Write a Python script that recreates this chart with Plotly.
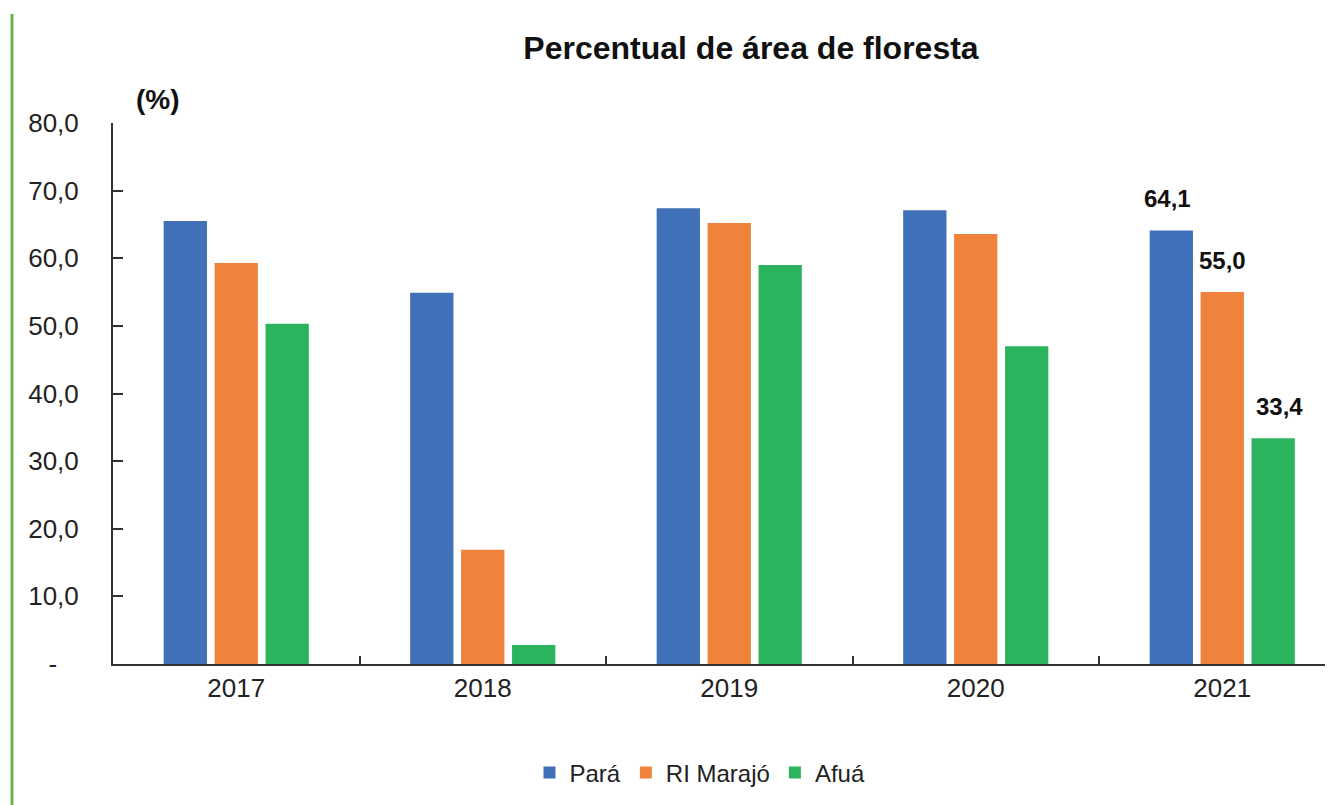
import plotly.graph_objects as go

years = ["2017", "2018", "2019", "2020", "2021"]
para = [65.5, 54.9, 67.4, 67.1, 64.1]
marajo = [59.3, 16.9, 65.2, 63.6, 55.0]
afua = [50.3, 2.8, 59.0, 47.0, 33.4]
series = [("Pará", para, "#3F70B8"), ("RI Marajó", marajo, "#F0833C"), ("Afuá", afua, "#2BB35E")]
ytick_vals = [0, 10, 20, 30, 40, 50, 60, 70, 80]
ytick_text = ["-\u00a0\u00a0\u00a0", "10,0", "20,0", "30,0", "40,0", "50,0", "60,0", "70,0", "80,0"]

FONT = "Liberation Sans, Arial, sans-serif"

# page offset (body margin 8px) compensation
OFF = 8
L, T, PW, PH = 113 - OFF, 123 - OFF, 1220, 541
B = 805 - (T + PH)
R = 1333 - L - PW

fig = go.Figure()
for name, vals, col in series:
    fig.add_trace(go.Bar(x=years, y=vals, name=name, marker=dict(color=col, line=dict(width=0))))

# data labels for last year
offsets = [-55, 0, 57]
last = len(years) - 1
for (name, vals, col), dx in zip(series, offsets):
    fig.add_annotation(x=last, y=vals[last], xref="x", yref="y",
                       text="<b>" + f"{vals[last]:.1f}".replace(".", ",") + "</b>", showarrow=False,
                       xshift=dx, yshift=32, font=dict(family=FONT, size=24, color="#111111"))

fig.add_annotation(x=(158 - 113) / PW, y=(664 - 100) / PH, xref="paper", yref="paper",
                   xanchor="center", yanchor="middle",
                   text="<b>(%)</b>", showarrow=False,
                   font=dict(family=FONT, size=28, color="#111111"))

# left green vertical line
fig.add_shape(type="line", xref="paper", yref="paper",
              x0=-(113 - 12) / PW, x1=-(113 - 12) / PW,
              y0=-(B + 10) / PH, y1=(664 - 14) / PH,
              line=dict(color="#6BB551", width=3))

fig.update_layout(
    width=1333, height=805,
    margin=dict(l=L, r=R, t=T, b=B, autoexpand=False),
    paper_bgcolor="white", plot_bgcolor="white",
    barmode="group", bargap=0.38, bargroupgap=0.15,
    title=dict(text="<b>Percentual de área de floresta</b>", x=(751 - OFF) / 1333, xanchor="center",
               y=1 - (48 - OFF) / 805, yanchor="middle", font=dict(family=FONT, size=32, color="#111111")),
    font=dict(family=FONT, size=24, color="#222222"),
    showlegend=True,
    legend=dict(orientation="h", x=(700 - 113) / PW, xanchor="center", y=-(773 - 664) / PH,
                yanchor="middle", font=dict(family=FONT, size=24, color="#222222"),
                itemwidth=30, tracegroupgap=0),
)
fig.update_xaxes(type="category", range=[-0.5, -0.5 + PW / 246.5], showline=True, linecolor="#333333",
                 linewidth=2, ticks="inside", tickson="boundaries", ticklen=8, tickcolor="#333333",
                 tickwidth=2, tickfont=dict(size=26, color="#222222"), showgrid=False, zeroline=False)
fig.update_yaxes(range=[0, 80], tickvals=ytick_vals, ticktext=ytick_text, showline=True,
                 linecolor="#333333", linewidth=2, ticks="inside", ticklen=10, tickcolor="#333333",
                 tickwidth=2, ticklabelstandoff=27, tickfont=dict(size=26, color="#222222"),
                 showgrid=False, zeroline=False)

fig.write_html("out.html")
